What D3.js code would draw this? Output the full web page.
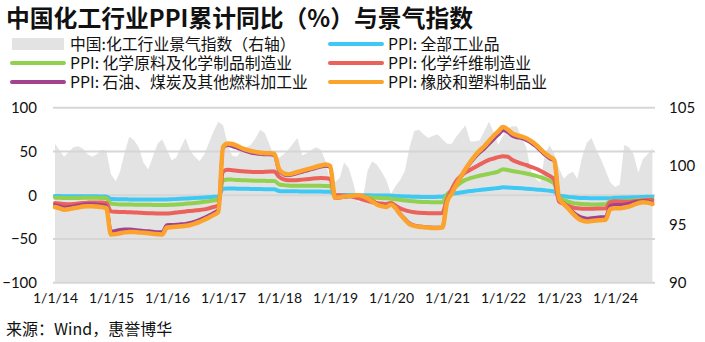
<!DOCTYPE html>
<html>
<head>
<meta charset="utf-8">
<script src="https://cdn.jsdelivr.net/npm/d3@7"></script>
<style>
  html, body { margin: 0; padding: 0; background: #fff; }
  svg { display: block; }
  .cjk { font-family: "Noto Sans CJK SC", "Noto Sans", sans-serif; }
  .tick-text { font-family: Lato, "Noto Sans", sans-serif; }
</style>
</head>
<body>
<div id="chart"></div>
<script>
// Monthly observations, Jan 2014 – Sep 2024
const startMonth = new Date(2014, 0, 1);
const endMonth = new Date(2024, 9, 1); // exclusive
const months = d3.timeMonth.range(startMonth, endMonth);

// Chemical industry sentiment index (right axis)
const sentimentIndex = [
  101.9,101.3,100.8,101.2,101.6,101.7,101.5,101.0,100.8,101.0,101.4,101.3,
  99.3,98.7,99.5,101.2,102.5,102.2,101.6,100.3,99.7,100.8,101.9,102.3,
  101.4,100.5,100.7,101.6,102.4,101.3,100.8,100.4,101.0,102.0,103.0,103.8,
  103.5,101.8,100.9,100.8,101.3,101.6,101.8,102.4,103.1,102.8,101.8,100.8,
  100.7,101.0,101.4,101.9,102.4,100.9,101.1,101.4,101.6,101.4,100.4,98.6,
  98.6,99.0,100.3,99.8,98.5,96.9,97.1,99.6,100.4,100.1,99.5,98.8,
  97.6,98.3,98.8,99.6,101.6,103.0,103.1,102.7,102.4,102.6,102.7,102.3,
  101.9,101.9,102.5,103.0,103.5,102.1,102.1,102.2,103.0,103.8,102.9,101.8,
  102.6,103.2,103.4,103.4,102.5,101.6,99.6,98.9,98.6,101.0,101.8,101.0,
  99.8,98.9,99.3,99.5,98.9,100.8,102.0,102.4,101.4,100.6,99.6,98.6,
  98.2,98.4,101.8,101.6,101.0,99.4,100.6,101.0,101.5
];

// PPI, cumulative year-on-year (%), left axis
const ppiAll = [
  -1.0,-1.0,-1.1,-1.2,-1.2,-1.2,-1.2,-1.2,-1.3,-1.3,-1.4,-1.4,
  -4.3,-4.5,-4.6,-4.7,-4.8,-4.9,-5.0,-5.0,-5.0,-5.0,-5.0,-5.0,
  -4.8,-4.6,-4.4,-4.1,-3.8,-3.5,-3.2,-2.9,-2.6,-2.2,-1.8,-1.4,
  7.5,7.6,7.6,7.5,7.4,7.3,7.2,7.1,7.0,6.9,6.8,6.7,
  4.9,4.6,4.5,4.4,4.4,4.3,4.3,4.3,4.2,4.1,4.0,3.9,
  0.1,0.0,0.1,0.2,0.2,0.1,0.0,-0.1,-0.2,-0.3,-0.3,-0.3,
  -0.6,-0.8,-1.1,-1.4,-1.6,-1.8,-1.9,-2.0,-2.0,-2.0,-1.9,-1.8,
  0.3,1.5,2.3,3.1,3.9,4.7,5.3,5.9,6.5,7.1,7.7,8.3,
  9.0,8.8,8.5,8.2,7.9,7.5,7.1,6.6,6.1,5.6,5.0,4.2,
  -0.5,-1.2,-1.9,-2.4,-2.8,-3.1,-3.3,-3.4,-3.5,-3.6,-3.6,-3.6,
  -3.0,-2.8,-2.7,-2.5,-2.4,-2.2,-2.0,-1.8,-1.7
];

const ppiChemMaterials = [
  -3.0,-3.0,-3.1,-3.2,-3.2,-3.1,-3.0,-3.0,-3.0,-3.0,-3.1,-3.3,
  -9.5,-10.2,-10.5,-10.6,-10.7,-10.8,-10.9,-11.0,-11.0,-11.1,-11.1,-11.2,
  -11.2,-11.0,-10.7,-10.3,-9.9,-9.4,-8.9,-8.3,-7.6,-6.9,-6.1,-5.2,
  17.0,18.0,17.8,17.5,17.2,17.0,16.8,16.6,16.5,16.4,16.3,16.3,
  12.5,11.5,11.0,10.8,10.8,10.8,10.8,10.8,10.8,10.7,10.6,10.5,
  -0.5,-0.8,-1.0,-1.0,-1.2,-1.5,-1.8,-2.2,-2.6,-3.0,-3.3,-3.6,
  -4.0,-4.6,-5.3,-6.0,-6.6,-7.0,-7.4,-7.7,-7.9,-8.0,-8.1,-8.1,
  1.0,5.5,10.0,14.5,17.5,19.5,21.0,22.2,23.3,24.5,25.7,27.0,
  29.8,28.8,27.6,26.7,25.8,24.8,23.6,22.2,20.7,19.0,16.5,13.0,
  -3.0,-5.5,-7.5,-8.8,-9.6,-10.0,-10.3,-10.5,-10.5,-10.4,-10.2,-7.0,
  -7.0,-6.8,-6.6,-6.4,-6.0,-5.6,-5.2,-5.0,-5.0
];

const ppiChemFibre = [
  -9.0,-9.5,-10.0,-10.2,-10.0,-9.5,-9.0,-8.5,-8.2,-8.2,-8.4,-8.8,
  -18.5,-19.0,-19.2,-19.3,-19.5,-19.7,-20.0,-20.3,-20.5,-20.7,-20.9,-21.0,
  -21.0,-20.5,-19.8,-19.2,-18.5,-18.0,-17.5,-17.0,-16.2,-15.0,-13.5,-11.5,
  27.0,29.0,28.5,28.0,27.5,27.0,26.7,26.5,26.5,26.7,27.0,27.0,
  21.0,18.0,17.0,17.0,17.3,17.8,18.3,18.8,19.3,19.6,19.4,18.5,
  0.0,0.0,-0.5,-1.0,-2.0,-3.5,-5.0,-6.5,-8.0,-9.0,-9.5,-10.0,
  -9.0,-12.0,-15.0,-17.0,-18.5,-19.5,-20.0,-20.3,-20.5,-20.5,-20.5,-20.3,
  -4.0,7.0,16.0,22.0,26.0,29.0,32.0,35.0,38.0,40.5,42.0,43.5,
  44.5,44.0,40.5,38.0,36.0,34.5,32.5,30.5,28.0,25.0,22.0,18.0,
  -7.0,-10.0,-12.0,-14.0,-15.0,-15.5,-15.5,-15.5,-15.3,-15.2,-15.0,-8.0,
  -7.0,-7.2,-7.4,-7.4,-7.0,-6.5,-6.0,-5.5,-5.5
];

const ppiPetroCoal = [
  -11.0,-12.5,-14.0,-13.5,-12.5,-11.5,-10.5,-10.0,-10.0,-10.5,-11.0,-12.0,
  -41.5,-40.5,-39.5,-39.0,-39.0,-39.5,-40.0,-40.5,-41.0,-41.5,-42.0,-42.0,
  -34.0,-33.8,-33.5,-33.0,-32.5,-31.5,-30.0,-28.0,-25.5,-23.0,-20.0,-16.5,
  54.0,57.0,56.0,54.0,52.0,50.0,48.5,47.5,47.0,46.5,46.5,46.0,
  28.0,23.5,22.5,23.5,25.0,26.5,28.0,29.5,31.0,32.5,33.5,32.0,
  -3.5,-3.0,-2.0,-1.5,-1.0,-0.5,-1.0,-3.0,-6.0,-9.5,-11.5,-12.5,
  -9.5,-14.5,-21.0,-27.0,-32.0,-34.5,-35.5,-36.0,-36.5,-37.0,-37.0,-36.5,
  -7.0,2.0,12.0,20.5,29.0,36.5,43.0,48.5,53.0,58.5,64.0,69.0,
  74.0,72.0,68.0,66.0,65.0,63.0,60.0,56.0,51.0,46.0,42.0,39.0,
  -3.0,-9.0,-14.0,-19.0,-23.0,-25.5,-26.5,-26.0,-25.5,-25.0,-24.5,-12.0,
  -11.0,-11.0,-10.5,-9.5,-8.0,-7.0,-6.5,-7.0,-8.5
];

const ppiRubberPlastic = [
  -13.5,-15.0,-16.5,-16.0,-15.0,-14.0,-13.0,-12.5,-12.5,-13.0,-13.5,-14.5,
  -45.0,-44.5,-43.5,-42.5,-42.0,-42.0,-42.5,-43.0,-43.5,-44.0,-44.5,-45.0,
  -37.0,-36.5,-36.0,-35.5,-35.0,-34.0,-32.5,-30.5,-28.0,-25.5,-22.5,-19.0,
  55.0,59.0,58.5,56.5,54.0,52.0,50.5,49.5,48.5,48.0,48.0,47.5,
  30.0,25.0,24.0,25.0,26.5,28.0,29.5,31.0,32.5,34.0,35.0,33.5,
  -3.0,-2.5,-1.5,-1.0,-0.5,0.0,-1.0,-3.5,-7.0,-10.5,-12.5,-13.5,
  -10.5,-15.0,-22.0,-28.0,-33.0,-35.0,-36.0,-36.5,-37.0,-37.5,-37.5,-37.0,
  -8.0,2.0,12.0,21.0,30.0,38.0,45.0,51.0,56.0,62.0,68.0,73.0,
  78.0,75.0,71.0,68.5,67.0,65.0,62.0,58.0,53.0,48.0,44.0,40.0,
  -3.0,-10.0,-15.0,-21.0,-26.0,-29.0,-30.0,-29.5,-29.0,-28.5,-28.0,-16.0,
  -15.0,-15.0,-14.0,-13.0,-11.0,-9.0,-8.0,-8.5,-10.0
];

const leftTicks = [-100, -50, 0, 50, 100];
const rightTicks = [90, 95, 100, 105];
const yearTicks = d3.timeYear.range(new Date(2014, 0, 1), new Date(2024, 0, 2));

const titleText = "中国化工行业PPI累计同比（%）与景气指数";
const sourceText = "来源：Wind，惠誉博华";
const areaName = "中国:化工行业景气指数（右轴）";

// Line series, in drawing order (last on top)
const lineSeries = [
  { name: "PPI: 全部工业品", values: ppiAll, color: "#3ec8f4", width: 4 },
  { name: "PPI: 化学原料及化学制品制造业", values: ppiChemMaterials, color: "#92d050", width: 4 },
  { name: "PPI: 化学纤维制造业", values: ppiChemFibre, color: "#ea6259", width: 4 },
  { name: "PPI: 石油、煤炭及其他燃料加工业", values: ppiPetroCoal, color: "#a3438f", width: 3.5 },
  { name: "PPI: 橡胶和塑料制品业", values: ppiRubberPlastic, color: "#fba32c", width: 4.5 }
];

const W = 705, H = 342;
const plot = { left: 53, right: 655, top: 107.7, bottom: 282.7 };

const svg = d3.select("#chart").append("svg")
  .attr("width", W).attr("height", H)
  .style("background", "#fff");

const x = d3.scaleTime()
  .domain([new Date(2014, 0, 1), new Date(2024, 0, 1)])
  .range([55, 615]);
const yL = d3.scaleLinear().domain([-100, 100]).range([plot.bottom, plot.top]);
const yR = d3.scaleLinear().domain([90, 105]).range([plot.bottom, plot.top]);

// Sentiment index area
const area = d3.area()
  .x((d, i) => x(months[i]))
  .y0(yR(90))
  .y1(d => yR(d));
svg.append("path")
  .datum(sentimentIndex)
  .attr("d", area)
  .attr("fill", "#e3e3e3");

// Horizontal gridlines
svg.append("g").selectAll("line")
  .data(leftTicks)
  .join("line")
  .attr("x1", plot.left).attr("x2", plot.right)
  .attr("y1", d => yL(d)).attr("y2", d => yL(d))
  .attr("stroke", "#d6d6d6")
  .attr("stroke-width", 2);

// PPI lines
const line = d3.line()
  .x((d, i) => x(months[i]))
  .y(d => yL(d))
  .curve(d3.curveMonotoneX);
svg.append("g").selectAll("path")
  .data(lineSeries)
  .join("path")
  .attr("d", s => line(s.values))
  .attr("fill", "none")
  .attr("stroke", s => s.color)
  .attr("stroke-width", s => s.width)
  .attr("stroke-linejoin", "round")
  .attr("stroke-linecap", "round");

// Left axis labels
const leftAxis = d3.axisLeft(yL).tickValues(leftTicks).tickSize(0).tickPadding(0);
svg.append("g")
  .attr("transform", "translate(37,0)")
  .call(leftAxis)
  .call(g => g.select(".domain").remove())
  .selectAll("text")
  .attr("class", "tick-text")
  .attr("font-size", 15)
  .attr("fill", "#111");

// Right axis labels
const rightAxis = d3.axisRight(yR).tickValues(rightTicks).tickSize(0).tickPadding(0);
svg.append("g")
  .attr("transform", "translate(669,0)")
  .call(rightAxis)
  .call(g => g.select(".domain").remove())
  .selectAll("text")
  .attr("class", "tick-text")
  .attr("font-size", 15)
  .attr("fill", "#111");

// Bottom axis labels
const bottomAxis = d3.axisBottom(x).tickValues(yearTicks)
  .tickFormat(d3.timeFormat("%-m/%-d/%y")).tickSize(0).tickPadding(0);
svg.append("g")
  .attr("transform", "translate(0,293)")
  .call(bottomAxis)
  .call(g => g.select(".domain").remove())
  .selectAll("text")
  .attr("class", "tick-text")
  .attr("font-size", 14)
  .attr("fill", "#111");

// Title
svg.append("text")
  .attr("class", "cjk")
  .attr("x", 6).attr("y", 27)
  .attr("font-size", 23.8)
  .attr("font-weight", "bold")
  .attr("fill", "#111")
  .text(titleText);

// Legend
const legendItems = [
  { name: areaName, type: "area", color: "#e3e3e3" },
  lineSeries[0], lineSeries[1], lineSeries[2], lineSeries[3], lineSeries[4]
];
const legend = svg.append("g").attr("class", "cjk");
legendItems.forEach((item, i) => {
  const col = i % 2, row = Math.floor(i / 2);
  const lx = col === 0 ? 12 : 330;
  const ly = 44 + row * 19;
  if (item.type === "area") {
    legend.append("rect")
      .attr("x", lx).attr("y", ly - 6)
      .attr("width", 52).attr("height", 12)
      .attr("fill", item.color);
  } else {
    legend.append("line")
      .attr("x1", lx).attr("x2", lx + 52)
      .attr("y1", ly).attr("y2", ly)
      .attr("stroke", item.color)
      .attr("stroke-width", 4)
      .attr("stroke-linecap", "round");
  }
  legend.append("text")
    .attr("x", lx + 58).attr("y", ly)
    .attr("dy", "0.36em")
    .attr("font-size", 15.8)
    .attr("fill", "#111")
    .text(item.name);
});

// Source note
svg.append("text")
  .attr("class", "cjk")
  .attr("x", 6).attr("y", 335)
  .attr("font-size", 16)
  .attr("fill", "#111")
  .text(sourceText);
</script>
</body>
</html>
